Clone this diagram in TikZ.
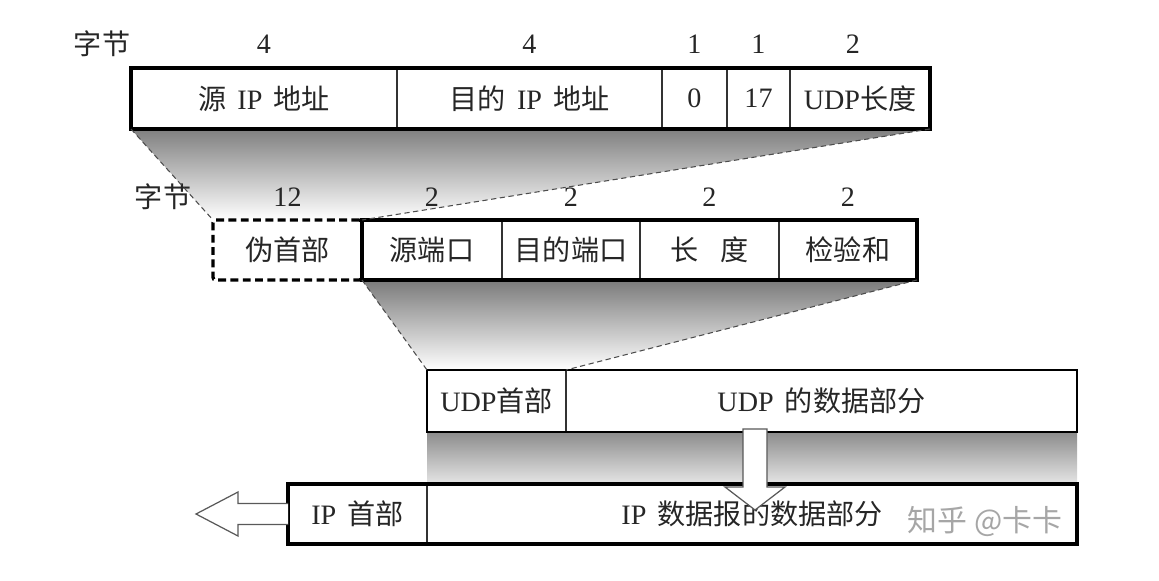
\documentclass[tikz,border=0pt]{standalone}
\usepackage{fontspec}
\setmainfont{Liberation Serif}
\newfontfamily\cjk{Noto Sans CJK SC}
\usepackage{tikz}
\usepackage{xcolor}
\usetikzlibrary{positioning,backgrounds}

\newcommand{\zh}[1]{{\cjk #1}}
\newcommand{\pxl}{0.02cm}
\newcommand{\gap}{\hspace{0.4em}}

\tikzset{
    field/.style={draw=black!80, line width=0.6pt, fill=white, inner sep=0pt, outer sep=0pt,
        minimum height=61*\pxl, text=black!85, font=\fontsize{16}{18}\selectfont},
    dashbox/.style={draw=black, line width=1.9pt, dash pattern=on 4.5pt off 2.5pt, rounded corners=1.5pt},
    boxline/.style={line width=1.9pt, draw=black},
    guide/.style={densely dashed, line width=0.6pt, draw=black!70},
    bytes/.style={text=black!85, font=\fontsize{16}{18}\selectfont},
    hollow/.style={fill=white, draw=black!65, line width=0.7pt, line join=miter},
    watermark/.style={text=black!35, font=\fontsize{17}{19}\selectfont}
}

\begin{document}
\begin{tikzpicture}[x=\pxl, y=-\pxl]
        \useasboundingbox (0,0) rectangle (1159,581);

        \node[field, minimum width=266*\pxl, anchor=north west] (srcip) at (131,68) {\zh{源}\gap IP\gap\zh{地址}};
        \node[field, minimum width=265*\pxl, right=0pt of srcip] (dstip) {\zh{目的}\gap IP\gap\zh{地址}};
        \node[field, minimum width=65*\pxl, right=0pt of dstip] (zero) {0};
        \node[field, minimum width=63*\pxl, right=0pt of zero] (proto) {17};
        \node[field, minimum width=140*\pxl, right=0pt of proto] (udplen) {UDP\zh{长度}};
        \draw[boxline] (srcip.north west) rectangle (udplen.south east);

        \node[bytes] (unita) at (102,44) {\zh{字节}};
        \node[bytes] (nsrcip) at (srcip.north |- 0,44) {4};
        \node[bytes] (ndstip) at (dstip.north |- 0,44) {4};
        \node[bytes] (nzero) at (zero.north |- 0,44) {1};
        \node[bytes] (nproto) at (proto.north |- 0,44) {1};
        \node[bytes] (nudplen) at (853,44) {2};

        \node[field, dashbox, minimum width=149*\pxl, minimum height=60*\pxl, anchor=north west] (pseudo) at (213,220) {\zh{伪首部}};
        \node[field, minimum width=140*\pxl, minimum height=60*\pxl, right=0pt of pseudo] (srcport) {\zh{源端口}};
        \node[field, minimum width=138*\pxl, minimum height=60*\pxl, right=0pt of srcport] (dstport) {\zh{目的端口}};
        \node[field, minimum width=139*\pxl, minimum height=60*\pxl, right=0pt of dstport] (len) {\zh{长}\hspace{0.8em}\zh{度}};
        \node[field, minimum width=138*\pxl, minimum height=60*\pxl, right=0pt of len] (chksum) {\zh{检验和}};
        \draw[boxline] (srcport.north west) rectangle (chksum.south east);

        \node[bytes] (unitb) at (163,197) {\zh{字节}};
        \node[bytes] (npseudo) at (pseudo.north |- 0,197) {12};
        \node[bytes] (nsrcport) at (srcport.north |- 0,197) {2};
        \node[bytes] (ndstport) at (dstport.north |- 0,197) {2};
        \node[bytes] (nlen) at (len.north |- 0,197) {2};
        \node[bytes] (nchksum) at (chksum.north |- 0,197) {2};

        \node[field, minimum width=139*\pxl, minimum height=62*\pxl, anchor=north west] (udphdr) at (427,370) {UDP\zh{首部}};
        \node[field, minimum width=511*\pxl, minimum height=62*\pxl, right=0pt of udphdr] (udpdata) {UDP\gap\zh{的数据部分}};
        \draw[boxline, line width=1.1pt] (udphdr.north west) rectangle (udpdata.south east);

        \node[field, minimum width=139*\pxl, minimum height=60*\pxl, anchor=north west] (iphdr) at (288,484) {IP\gap\zh{首部}};
        \node[field, minimum width=650*\pxl, minimum height=60*\pxl, right=0pt of iphdr] (ipdata) {IP\gap\zh{数据报的数据部分}};
        \draw[boxline] (iphdr.north west) rectangle (ipdata.south east);

        \begin{scope}[on background layer]
            \shade[top color=black!50, bottom color=white] (srcip.south west) -- (udplen.south east) -- (srcport.north west) -- (pseudo.north west) -- cycle;
            \shade[top color=black!52, bottom color=white] (srcport.south west) -- (chksum.south east) -- (udphdr.north east) -- (udphdr.north west) -- cycle;
            \shade[top color=black!45, bottom color=black!10] (udphdr.south west) rectangle (udpdata.south east |- ipdata.north);
        \end{scope}

        \draw[guide] (srcip.south west) -- (pseudo.north west);
        \draw[guide] (udplen.south east) -- (srcport.north west);
        \draw[guide] (srcport.south west) -- (udphdr.north west);
        \draw[guide] (chksum.south east) -- (udphdr.north east);

        \coordinate (drop) at (755,429);
        \filldraw[hollow] (drop) ++(-12,0) -- ++(0,58) -- ++(-18,0) -- ++(30,23) -- ++(30,-23) -- ++(-18,0) -- ++(0,-58) -- cycle;

        \draw[hollow] (iphdr.west) ++(0,-10.5) -- ++(-50,0) -- ++(0,-11.5) -- ++(-42,22) -- ++(42,22) -- ++(0,-11.5) -- ++(50,0);

        \node[watermark] (zhihu) at (985,522) {\zh{知乎 @卡卡}};
    \end{tikzpicture}
\end{document}
